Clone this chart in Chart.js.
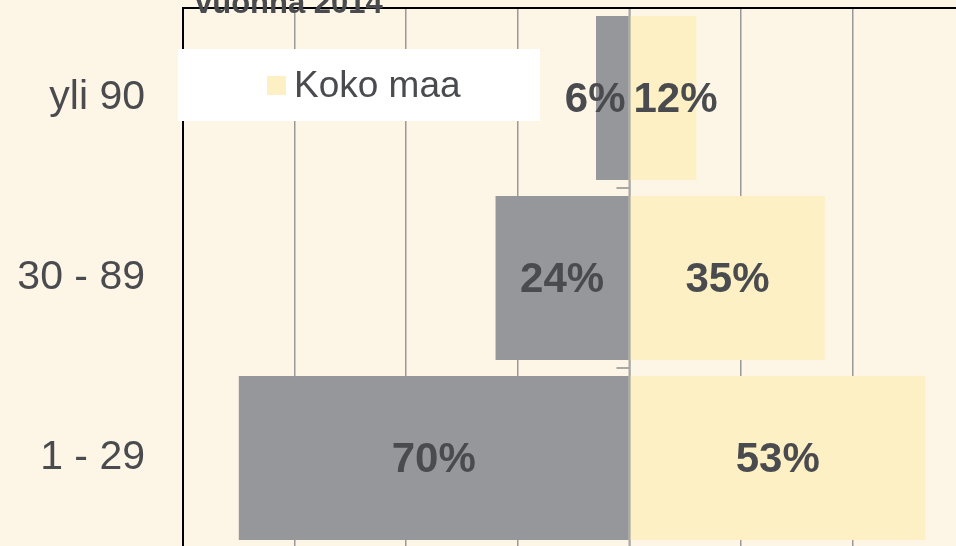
<!DOCTYPE html>
<html>
<head>
<meta charset="utf-8">
<script src="https://cdn.jsdelivr.net/npm/chart.js@4"></script>
<style>
  html, body { margin: 0; padding: 0; overflow: hidden; background: #fdf5e6; }
  #wrap { position: relative; width: 956px; height: 548px; }
</style>
</head>
<body>
<div id="wrap"><canvas id="chart"></canvas></div>
<script>
// categories, top to bottom
const categories = ['yli 90', '30 - 89', '1 - 29'];
// share in % (grey series drawn to the left)
const kunta = [6, 24, 70];
const kokoMaa = [12, 35, 53];
const titleText = 'vuonna 2014';

const FONT = '"Liberation Sans", Arial, sans-serif';
const TEXT = '#4a4b4f';

// draws title, legend box, center axis, value labels
const decor = {
    id: 'decor',
    afterDatasetsDraw(chart) {
        const ctx = chart.ctx;
        const area = chart.chartArea;
        const xs = chart.scales.x;
        const ys = chart.scales.y;
        const zero = xs.getPixelForValue(0);

        ctx.save();
        // center axis + small ticks between rows
        ctx.strokeStyle = '#a8a8a4';
        ctx.lineWidth = 2;
        ctx.beginPath();
        ctx.moveTo(zero, area.top);
        ctx.lineTo(zero, area.bottom);
        for (let i = 0; i <= categories.length; i++) {
            const y = ys.getPixelForValue(i - 0.5);
            ctx.moveTo(zero - 13, y);
            ctx.lineTo(zero, y);
        }
        ctx.stroke();

        // value labels
        ctx.font = 'bold 42px ' + FONT;
        ctx.fillStyle = TEXT;
        ctx.textBaseline = 'middle';
        chart.data.datasets.forEach((ds, di) => {
            chart.getDatasetMeta(di).data.forEach((bar, i) => {
                const txt = Math.abs(ds.data[i]) + '%';
                const w = ctx.measureText(txt).width;
                let cx = (bar.x + bar.base) / 2;
                if (ds.data[i] < 0) cx = Math.min(cx, zero - 4 - w / 2);
                else cx = Math.max(cx, zero + 4 + w / 2);
                ctx.textAlign = 'center';
                ctx.fillText(txt, cx, bar.y + 2);
            });
        });

        // border top / left
        ctx.strokeStyle = '#000';
        ctx.lineWidth = 2;
        ctx.beginPath();
        ctx.moveTo(area.left, area.bottom);
        ctx.lineTo(area.left, area.top);
        ctx.lineTo(area.right, area.top);
        ctx.stroke();

        // legend box
        const lx = 178, ly = 49;
        ctx.fillStyle = '#ffffff';
        ctx.fillRect(lx, ly, 362, 72);
        const shown = chart.data.datasets[1];
        ctx.fillStyle = shown.backgroundColor;
        ctx.fillRect(267, 76, 19, 19);
        ctx.fillStyle = TEXT;
        ctx.font = '37px ' + FONT;
        ctx.textAlign = 'left';
        ctx.textBaseline = 'alphabetic';
        ctx.fillText(shown.label, 294, 97);

        // title, cut by the top edge
        ctx.font = 'bold 31px ' + FONT;
        ctx.fillText(titleText, 195, 13);
        ctx.restore();
    }
};

new Chart(document.getElementById('chart'), {
    type: 'bar',
    data: {
        labels: categories,
        datasets: [
            {
                label: 'Kunta',
                data: kunta.map(v => -v),
                backgroundColor: '#96979b',
                borderWidth: 0
            },
            {
                label: 'Koko maa',
                data: kokoMaa,
                backgroundColor: '#fdf0c4',
                borderWidth: 0
            }
        ]
    },
    options: {
        indexAxis: 'y',
        responsive: true,
        maintainAspectRatio: false,
        animation: false,
        layout: { padding: { top: 8, left: 0, right: 0, bottom: 0 } },
        datasets: { bar: { categoryPercentage: 1, barPercentage: 164 / 180 } },
        plugins: {
            legend: { display: false },
            tooltip: { enabled: false }
        },
        scales: {
            x: {
                stacked: true,
                min: -80,
                max: 58.5,
                ticks: { display: false, stepSize: 20 },
                afterBuildTicks: axis => {
                    axis.ticks = axis.ticks.filter(t => t.value % 20 === 0);
                },
                afterFit: axis => {
                    axis.height = 0;
                    axis.paddingLeft = 0;
                    axis.paddingRight = 0;
                },
                grid: { color: '#9a9a9a', lineWidth: 1.5, drawTicks: false },
                border: { display: false }
            },
            y: {
                stacked: true,
                afterFit: axis => {
                    axis.width = 183;
                    axis.paddingTop = 0;
                    axis.paddingBottom = 0;
                },
                grid: { display: false, drawTicks: false },
                border: { display: false },
                ticks: {
                    padding: 38,
                    color: TEXT,
                    font: { family: FONT, size: 41 }
                }
            }
        }
    },
    plugins: [decor]
});
</script>
</body>
</html>
